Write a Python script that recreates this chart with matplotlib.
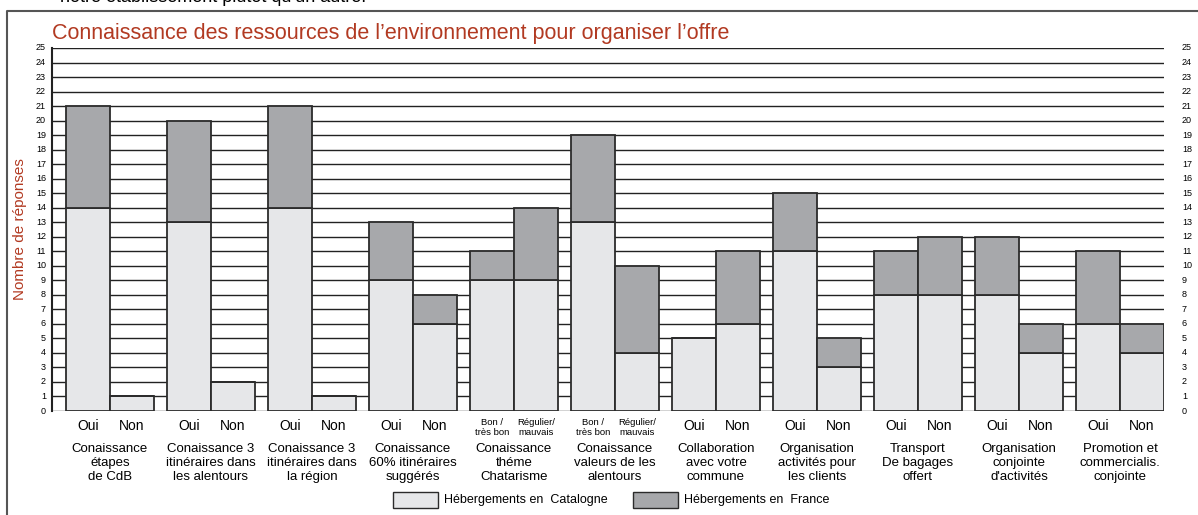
#!/usr/bin/env python3
"""Stacked bars: knowledge of environment resources, Catalogne vs France."""

import matplotlib
matplotlib.use('Agg')
import matplotlib.pyplot as plt
import matplotlib.patches as mpatches
import matplotlib.lines as mlines
import numpy as np

plt.rcParams['font.family'] = ['Liberation Sans Narrow', 'Liberation Sans', 'DejaVu Sans']

groups = ["Conaissance\nétapes\nde CdB",
          "Conaissance 3\nitinéraires dans\nles alentours",
          "Conaissance 3\nitinéraires dans\nla région",
          "Conaissance\n60% itinéraires\nsuggérés",
          "Conaissance\nthéme\nChatarisme",
          "Conaissance\nvaleurs de les\nalentours",
          "Collaboration\navec votre\ncommune",
          "Organisation\nactivités pour\nles clients",
          "Transport\nDe bagages\noffert",
          "Organisation\nconjointe\nd'activités",
          "Promotion et\ncommercialis.\nconjointe"]
answers = [("Oui", "Non"), ("Oui", "Non"), ("Oui", "Non"), ("Oui", "Non"),
           ("Bon /\ntrès bon", "Régulier/\nmauvais"),
           ("Bon /\ntrès bon", "Régulier/\nmauvais"),
           ("Oui", "Non"), ("Oui", "Non"), ("Oui", "Non"), ("Oui", "Non"),
           ("Oui", "Non")]
# first answer (Oui / Bon) and second answer (Non / Régulier)
catalogne_first = [14, 13, 14, 9, 9, 13, 5, 11, 8, 8, 6]
france_first = [7, 7, 7, 4, 2, 6, 0, 4, 3, 4, 5]
catalogne_second = [1, 2, 1, 6, 9, 4, 6, 3, 8, 4, 4]
france_second = [0, 0, 0, 2, 5, 6, 5, 2, 4, 2, 2]

W, H = 1198, 515
RED = '#b23a22'
C_CAT = '#e6e7e9'
C_FRA = '#a7a8ab'
EDGE = '#2b2b2b'

fig = plt.figure(figsize=(W / 100, H / 100), dpi=100)
x0, x1, y0, y1 = 52, 1164, 411, 48
ax = fig.add_axes([x0 / W, (H - y0) / H, (x1 - x0) / W, (y0 - y1) / H])

bw = 44 / 101
xpos = np.arange(len(groups))
xlim = ((x0 - 110) / 101, (x1 - 110) / 101)
ax.set_xlim(*xlim)
ax.set_ylim(0, 25)

for v in range(26):
    ax.plot(xlim, [v, v], color='#222222', lw=1.0, zorder=1)

kw = dict(width=bw, edgecolor=EDGE, linewidth=1.3, zorder=3)
ax.bar(xpos - bw / 2, catalogne_first, color=C_CAT, **kw)
ax.bar(xpos - bw / 2, france_first, bottom=catalogne_first, color=C_FRA, **kw)
ax.bar(xpos + bw / 2, catalogne_second, color=C_CAT, **kw)
ax.bar(xpos + bw / 2, france_second, bottom=catalogne_second, color=C_FRA, **kw)

for s in ['top', 'right', 'bottom']:
    ax.spines[s].set_visible(False)
ax.spines['left'].set_linewidth(1.5)
ax.spines['left'].set_color('#222222')
ax.set_xticks([])
ax.set_yticks([])

# y labels on both sides
for v in range(26):
    yy = (H - (y0 - v * (y0 - y1) / 25)) / H
    fig.text(46 / W, yy, str(v), ha='right', va='center', fontsize=6.5)
    fig.text(1182 / W, yy, str(v), ha='left', va='center', fontsize=6.5)

trans = ax.get_xaxis_transform()
px = 1 / (y0 - y1)
for i, (a, b) in enumerate(answers):
    for xx, lab in ((i - bw / 2, a), (i + bw / 2, b)):
        if '\n' in lab:
            ax.text(xx, -(418 - y0) * px, lab, transform=trans,
                    ha='center', va='top', fontsize=6.8, linespacing=1.1)
        else:
            ax.text(xx, -(426 - y0) * px, lab, transform=trans,
                    ha='center', va='center', fontsize=10)
    ax.text(i, -(443 - y0) * px, groups[i], transform=trans,
            ha='center', va='top', fontsize=9.5, linespacing=1.2)

ax.set_ylabel("Nombre de réponses", color=RED, fontsize=11)
ax.yaxis.set_label_coords(-(52 - 27) / (x1 - x0), 0.5)

fig.text(52 / W, (H - 33) / H,
         "Connaissance des ressources de l\u2019environnement pour organiser l\u2019offre",
         color=RED, fontsize=15.5, ha='left', va='center')

# cut-off text above the frame
fig.text(60 / W, (H + 2) / H, "notre établissement plutôt qu\u2019un autre.",
         fontsize=13, ha='left', va='center')

# frame around the figure
fig.add_artist(mlines.Line2D([7 / W, 7 / W, 1.0], [0, (H - 11) / H, (H - 11) / H],
                             transform=fig.transFigure, color='#555555', lw=1.5))

# legend
for lx, col, lab in ((393, C_CAT, "Hébergements en  Catalogne"),
                     (633, C_FRA, "Hébergements en  France")):
    fig.add_artist(mpatches.Rectangle((lx / W, (H - 508) / H), 45 / W, 16 / H,
                                      transform=fig.transFigure, facecolor=col,
                                      edgecolor=EDGE, lw=1.0))
    fig.text((lx + 51) / W, (H - 500) / H, lab, fontsize=9, ha='left', va='center')

fig.savefig('out.png', dpi=100)
